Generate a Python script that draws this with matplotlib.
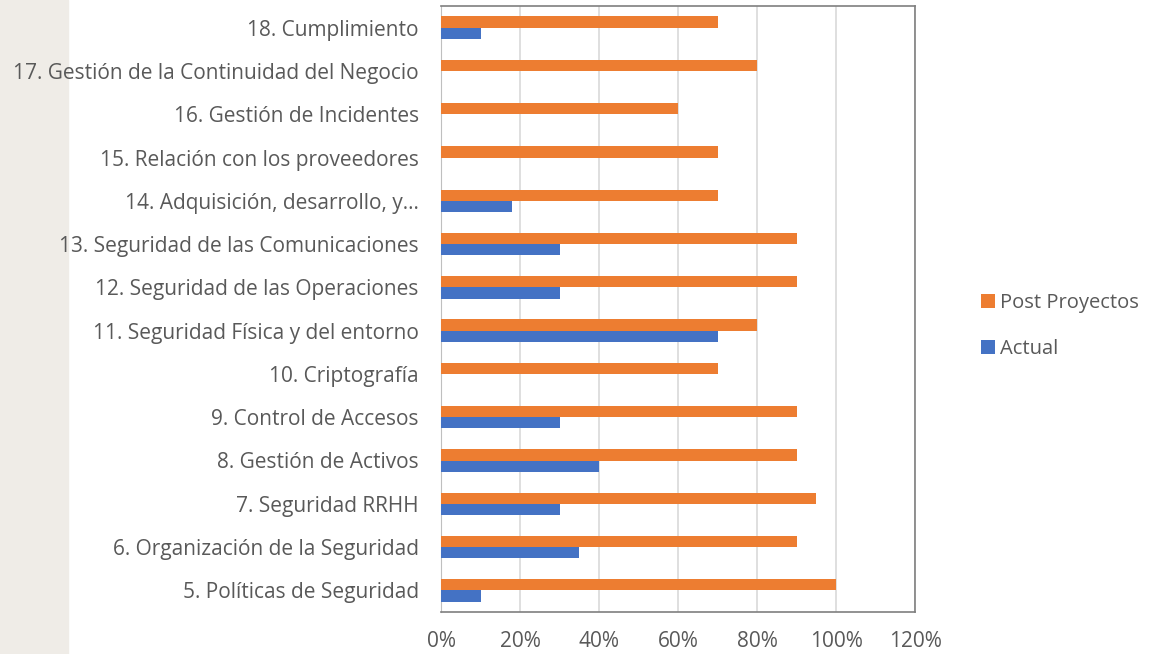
import numpy as np
from matplotlib import pyplot as plt

# Datos (de abajo hacia arriba)
categorias = ["5. Políticas de Seguridad",
              "6. Organización de la Seguridad",
              "7. Seguridad RRHH",
              "8. Gestión de Activos",
              "9. Control de Accesos",
              "10. Criptografía",
              "11. Seguridad Física y del entorno",
              "12. Seguridad de las Operaciones",
              "13. Seguridad de las Comunicaciones",
              "14. Adquisición, desarrollo, y…",
              "15. Relación con los proveedores",
              "16. Gestión de Incidentes",
              "17. Gestión de la Continuidad del Negocio",
              "18. Cumplimiento"]
post_proyectos = [100, 90, 95, 90, 90, 70, 80, 90, 90, 70, 70, 60, 80, 70]
actual = [10, 35, 30, 40, 30, 0, 70, 30, 30, 18, 0, 0, 0, 10]
ticks = [0, 20, 40, 60, 80, 100, 120]
tick_labels = ["0%", "20%", "40%", "60%", "80%", "100%", "120%"]

plt.rcParams['font.family'] = ['Open Sans', 'DejaVu Sans']
gris = '#595959'

fig = plt.figure(figsize=(11.5, 6.54), dpi=100)
# franja beige a la izquierda (por debajo del texto)
fig.patches.append(plt.Rectangle((0, 0), 68 / 1150, 1, transform=fig.transFigure,
                                 color='#EFECE7', zorder=-5))
ax = fig.add_axes([441 / 1150, 1 - 612 / 654, (915 - 441) / 1150, (612 - 6) / 654])
ax.patch.set_alpha(0)

y = np.arange(len(categorias))
h = 0.26
ax.barh(y + h / 2, post_proyectos, height=h, color='#ED7D31', label='Post Proyectos', zorder=3)
ax.barh(y - h / 2, actual, height=h, color='#4472C4', label='Actual', zorder=3)

ax.set_xlim(0, 120)
ax.set_ylim(-0.5, len(categorias) - 0.5)
ax.set_xticks(ticks)
ax.set_xticklabels(tick_labels)
ax.set_yticks(y)
ax.set_yticklabels(categorias)
ax.tick_params(axis='both', length=0, labelsize=15, colors=gris)
ax.tick_params(axis='x', pad=14)
ax.tick_params(axis='y', pad=16)
ax.xaxis.grid(True, color='#D9D9D9', linewidth=1.2, zorder=0)
ax.set_axisbelow(True)
for s in ['top', 'right', 'bottom']:
    ax.spines[s].set_color('#7F7F7F')
    ax.spines[s].set_linewidth(1.2)
ax.spines['left'].set_color('#BFBFBF')

handles, labels = ax.get_legend_handles_labels()
leg = fig.legend(handles, labels, loc='center left', bbox_to_anchor=(963 / 1150, 1 - 326 / 654),
                 frameon=False, fontsize=14.5, handlelength=0.7, handleheight=0.7,
                 handletextpad=0.25, labelspacing=1.3)
for t in leg.get_texts():
    t.set_color(gris)

fig.savefig('out.png', dpi=100)
